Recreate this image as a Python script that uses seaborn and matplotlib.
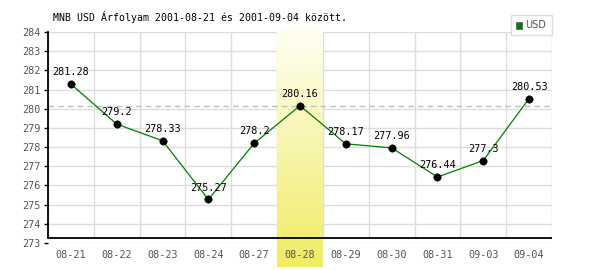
import matplotlib
matplotlib.use("Agg")
import matplotlib.pyplot as plt
import seaborn as sns
import numpy as np
import pandas as pd
from matplotlib.colors import LinearSegmentedColormap
from matplotlib.patches import Rectangle

dates = ["08-21", "08-22", "08-23", "08-24", "08-27", "08-28",
         "08-29", "08-30", "08-31", "09-03", "09-04"]
usd = [281.28, 279.2, 278.33, 275.27, 278.2, 280.16,
       278.17, 277.96, 276.44, 277.3, 280.53]
highlight = "08-28"
yticks = list(range(273, 285))
title = "MNB USD Árfolyam 2001-08-21 és 2001-09-04 között."

df = pd.DataFrame({"date": dates, "usd": usd})
df["pos"] = np.arange(len(dates))

sns.set_theme(style="white")
plt.rcParams["font.family"] = ["DejaVu Sans"]

fig = plt.figure(figsize=(6, 2.7), dpi=100)
ax = fig.add_axes([48/600, 1-243/270, 504/600, 211/270])
ax.set_axisbelow(False)

ax.set_xlim(-0.5, len(dates) - 0.5)
ax.set_ylim(273, 284)

# grid
for y in yticks:
    ax.axhline(y, color="#dddddd", lw=1, zorder=0)
for x in np.arange(len(dates) + 1) - 0.5:
    ax.plot([x, x], [273.27, 284], color="#dddddd", lw=1, zorder=0)

# highlight gradient
hi = dates.index(highlight)
cmap = LinearSegmentedColormap.from_list("hl", ["#fffff5", "#f0ec62"])
grad = np.linspace(0, 1, 256).reshape(-1, 1)
ax.imshow(grad, cmap=cmap, aspect="auto", origin="upper",
          extent=[hi - 0.5, hi + 0.5, 271.75, 284.22],
          zorder=1, clip_on=False)

# reference dashed line at highlighted value
ax.axhline(usd[hi], color="#b0c8b0", lw=1, ls=(0, (4, 3)), zorder=2)

sns.lineplot(data=df, x="pos", y="usd", color="#008000", lw=0.9,
             ax=ax, zorder=3, legend=False)
sns.scatterplot(data=df, x="pos", y="usd", color="black", s=28,
                edgecolor="black", ax=ax, zorder=4, legend=False)

for p, v in zip(df["pos"], df["usd"]):
    ax.annotate(f"{v:g}", (p, v), xytext=(0, 5), textcoords="offset points",
                ha="center", va="bottom", fontsize=7.3,
                family="DejaVu Sans Mono", color="black", zorder=5)

# axes lines
ax.axhline(273.27, color="black", lw=1.3, zorder=6)
for s in ["top", "right", "bottom"]:
    ax.spines[s].set_visible(False)
ax.spines["left"].set_color("black")
ax.spines["left"].set_linewidth(1.3)
ax.spines["left"].set_bounds(273.27, 284)

ax.set_yticks(yticks)
ax.set_yticklabels([str(y) for y in yticks], family="DejaVu Sans Mono")
ax.set_xticks(df["pos"])
ax.set_xticklabels(dates, family="DejaVu Sans Mono")
ax.tick_params(axis="y", length=3, width=1, color="black", pad=2,
               labelsize=7.3, labelcolor="#555555", left=True)
ax.tick_params(axis="x", length=0, pad=5, labelsize=7.3, labelcolor="#555555")
ax.set_xlabel("")
ax.set_ylabel("")

fig.text(53/600, 1-17/270, title, fontsize=7.1, family="DejaVu Sans Mono",
         ha="left", va="center", color="black")

# legend box
fig.patches.append(Rectangle((511/600, 1-35/270), 41/600, 20/270,
                             transform=fig.transFigure, facecolor="white",
                             edgecolor="#dddddd", lw=1))
fig.patches.append(Rectangle((516/600, 1-28.5/270), 6/600, 6/270,
                             transform=fig.transFigure, facecolor="#008000",
                             edgecolor="#555555", lw=0.5))
fig.text(525/600, 1-25.5/270, "USD", fontsize=7, color="#555555",
         ha="left", va="center")

fig.savefig("out.png", dpi=100)
